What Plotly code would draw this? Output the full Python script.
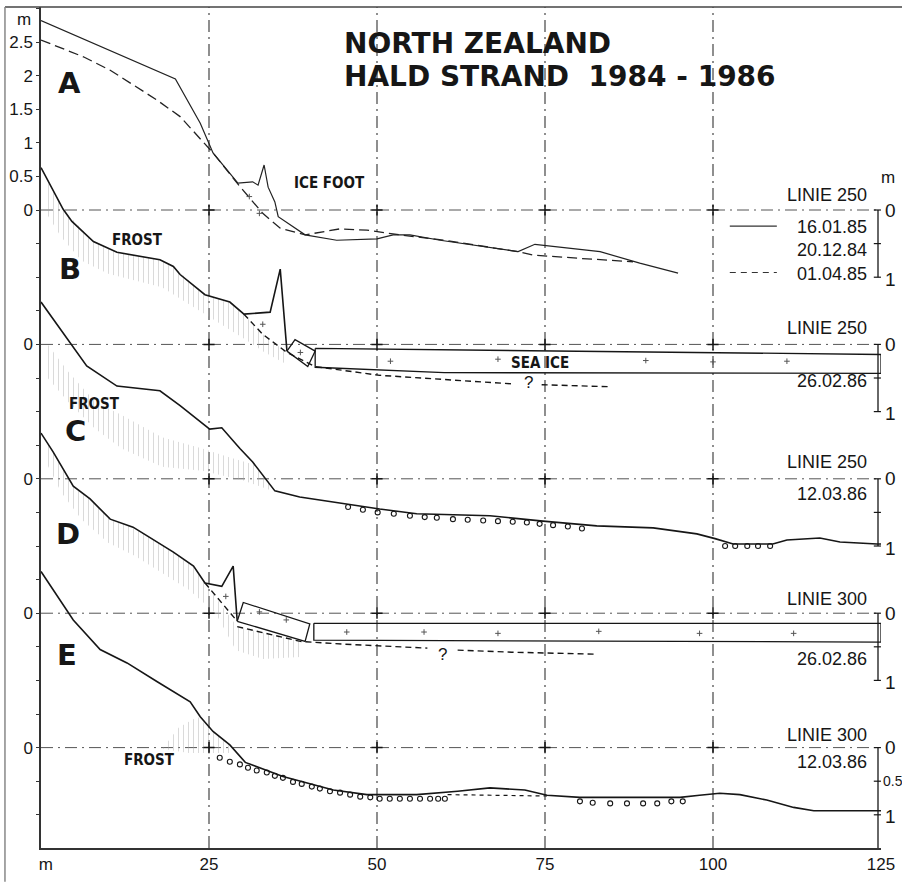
import plotly.graph_objects as go

# ---------------- data (metres; each profile relative to its own zero) -------------
x_tick_vals = [0, 25, 50, 75, 100, 125]
x_tick_text = ["\u00a0\u00a0m", "25", "50", "75", "100", "125"]

profile_names = ["A", "B", "C", "D", "E"]
profile_offsets = [0, -2, -4, -6, -8]          # vertical stacking of the five profiles
profile_lines = ["LINIE 250", "LINIE 250", "LINIE 250", "LINIE 300", "LINIE 300"]
profile_dates = ["", "26.02.86", "12.03.86", "26.02.86", "12.03.86"]

y_label_vals = [2.5, 2.0, 1.5, 1.0, 0.5, 0.0, -2.0, -4.0, -6.0, -8.0]
y_label_text = ["2.5", "2", "1.5", "1", "0.5", "0", "0", "0", "0", "0"]

legend_dates = ["16.01.85", "20.12.84", "01.04.85"]

# Profile A : 16.01.85 (solid) and 01.04.85 (dashed)
a_x = [0, 20.0, 23.7, 25.6, 29.3, 31.5, 32.3, 33.2, 33.8, 34.8, 35.3, 39.3, 44.0, 50.0, 52.4, 54.9, 59.4, 71.0, 73.5, 83.2, 89.1, 94.8]
a_y = [2.82, 1.95, 1.29, 0.85, 0.40, 0.42, 0.37, 0.67, 0.34, 0.12, -0.10, -0.37, -0.45, -0.43, -0.37, -0.37, -0.45, -0.62, -0.51, -0.62, -0.79, -0.94]
a2_x = [0, 6.3, 10.3, 14.2, 17.2, 20.7, 25.6, 29.6, 33.0, 35.6, 39.3, 44.5, 48.5, 53.4, 60.0, 71.0, 73.2, 80.2, 88.1]
a2_y = [2.53, 2.28, 2.08, 1.83, 1.64, 1.39, 0.85, 0.35, -0.05, -0.27, -0.37, -0.28, -0.30, -0.37, -0.45, -0.62, -0.67, -0.72, -0.77]

# Profile B : 26.02.86 with ice foot, ice block and sea ice
b_x = [0, 3.3, 4.6, 7.8, 11.3, 14.7, 17.7, 19.7, 20.7, 24.4, 28.1, 30.2, 34.1, 35.6, 36.6]
b_y = [2.63, 2.01, 1.83, 1.53, 1.37, 1.31, 1.26, 1.16, 1.04, 0.74, 0.63, 0.45, 0.48, 1.12, -0.10]
b_bed_x = [30.2, 33.0, 36.6, 40.8, 50.4, 65.3, 70.5, None, 74.5, 84.7]
b_bed_y = [0.45, 0.15, -0.12, -0.33, -0.46, -0.55, -0.59, None, -0.60, -0.63]
b_block_x = [36.6, 37.8, 40.8, 39.7, 36.6]
b_block_y = [-0.10, 0.07, -0.10, -0.33, -0.10]
b_ice_x = [40.8, 125, 125, 60, 40.8, 40.8]
b_ice_y = [-0.06, -0.15, -0.43, -0.42, -0.34, -0.06]
b_frost_top_x = [0.5, 3.3, 7.8, 11.3, 14.7, 17.7, 19.7, 24.4, 28.1, 30.2, 33.0, 36.6]
b_frost_top_y = [2.50, 2.01, 1.53, 1.37, 1.31, 1.26, 1.16, 0.74, 0.63, 0.45, 0.15, -0.12]
b_frost_bot_x = [36.6, 33, 30, 26, 22, 18, 14, 10, 6, 3, 0.5]
b_frost_bot_y = [-0.30, -0.10, 0.10, 0.35, 0.60, 0.85, 0.95, 1.05, 1.25, 1.60, 2.00]

# Profile C : 12.03.86
c_x = [0, 3.9, 6.8, 11.3, 17.7, 20.7, 25.1, 26.9, 29.6, 31.5, 34.8, 38.5, 50.4, 55.9, 66.8, 74.7, 82.7, 91.1, 97.6, 100.3, 103.0, 108.9, 111.0, 115.9, 118.9, 124.4, 125]
c_y = [2.63, 2.08, 1.68, 1.38, 1.31, 1.09, 0.74, 0.76, 0.45, 0.25, -0.18, -0.27, -0.45, -0.52, -0.55, -0.63, -0.70, -0.73, -0.82, -0.89, -0.97, -0.97, -0.91, -0.88, -0.94, -0.97, -0.97]
c_peb_x = [45.7, 47.9, 50.1, 52.5, 54.9, 57.1, 58.9, 61.3, 63.5, 65.8, 68.0, 70.2, 72.3, 74.2, 76.2, 78.4, 80.5, 101.8, 103.3, 105.1, 106.7, 108.5]
c_peb_y = [-0.42, -0.46, -0.50, -0.52, -0.55, -0.57, -0.58, -0.60, -0.61, -0.62, -0.63, -0.64, -0.65, -0.67, -0.69, -0.71, -0.74, -1.00, -1.00, -1.00, -1.00, -1.00]
c_frost_top_x = [1, 4, 8, 12, 18, 24, 28, 32, 34.5]
c_frost_top_y = [2.00, 1.60, 1.15, 0.95, 0.62, 0.45, 0.32, 0.20, -0.12]
c_frost_bot_x = [34.5, 30, 24, 18, 12, 8, 4, 1]
c_frost_bot_y = [-0.18, -0.02, 0.12, 0.18, 0.45, 0.75, 1.15, 1.50]

# Profile D : 26.02.86 with ice foot, tilted block and sea ice
d_x = [0, 1.8, 4.8, 7.3, 10.3, 13.7, 15.8, 19.7, 22.7, 24.4, 26.9, 28.6, 29.2]
d_y = [2.68, 2.40, 1.89, 1.70, 1.40, 1.28, 1.15, 0.91, 0.70, 0.45, 0.40, 0.70, -0.12]
d_bed_x = [24.4, 29.2, None, 29.2, 38.6, 45.0, 50.4, 57.5, None, 62.0, 70.0, 82.7]
d_bed_y = [0.45, -0.12, None, -0.20, -0.42, -0.46, -0.49, -0.52, None, -0.55, -0.58, -0.61]
d_block_x = [29.2, 30.1, 40.0, 39.3, 29.2]
d_block_y = [-0.12, 0.16, -0.16, -0.42, -0.12]
d_ice_x = [40.6, 125, 125, 40.6, 40.6]
d_ice_y = [-0.15, -0.15, -0.43, -0.40, -0.15]
d_frost_top_x = [0.5, 1.8, 4.8, 7.3, 10.3, 13.7, 15.8, 19.7, 22.7, 24.4, 29.2, 38.6]
d_frost_top_y = [2.60, 2.40, 1.89, 1.70, 1.40, 1.28, 1.15, 0.91, 0.70, 0.45, -0.20, -0.42]
d_frost_bot_x = [38.6, 33, 29, 26, 22, 18, 14, 10, 6, 3, 0.5]
d_frost_bot_y = [-0.65, -0.68, -0.55, 0.00, 0.35, 0.60, 0.85, 1.05, 1.40, 1.80, 2.30]

# Profile E : 12.03.86
e_x = [0, 4.8, 8.8, 12.8, 17.3, 22.2, 23.7, 25.6, 28.1, 30.4, 36.0, 43.5, 48.5, 55.9, 62.0, 66.8, 72.0, 75.3, 80.2, 95.1, 98.0, 101.0, 104.0, 108.0, 112.0, 115.0, 119.0, 125.0]
e_y = [2.62, 1.90, 1.46, 1.26, 0.98, 0.68, 0.46, 0.24, 0.04, -0.22, -0.43, -0.63, -0.70, -0.70, -0.65, -0.60, -0.63, -0.71, -0.74, -0.74, -0.71, -0.68, -0.70, -0.78, -0.89, -0.94, -0.94, -0.94]
e_peb_x = [26.6, 28.1, 29.6, 30.8, 32.1, 33.6, 34.8, 36.0, 37.5, 38.8, 40.3, 41.5, 43.0, 44.5, 46.0, 47.5, 49.0, 50.4, 51.9, 53.4, 54.9, 56.4, 57.9, 59.1, 60.1,
           80.2, 82.1, 84.7, 87.2, 89.6, 91.7, 93.8, 95.5]
e_peb_y = [-0.15, -0.21, -0.25, -0.30, -0.34, -0.37, -0.42, -0.45, -0.51, -0.54, -0.58, -0.61, -0.65, -0.67, -0.70, -0.73, -0.74, -0.76, -0.76, -0.76, -0.76, -0.76, -0.76, -0.76, -0.76,
           -0.80, -0.82, -0.83, -0.83, -0.83, -0.83, -0.80, -0.80]
e_dot_x = [60.5, 75.3]
e_dot_y = [-0.70, -0.72]
e_frost_x = [18.2, 20.5, 23.3, 25.6, 28.1, 28.1, 22.0, 18.2]
e_frost_y = [0.00, 0.30, 0.46, 0.24, 0.04, -0.08, -0.08, -0.02]

# small ice-crystal marks inside the ice
b_mark_x = [33.0, 38.6, 52.0, 68.0, 90.0, 100.0, 111.0]
b_mark_y = [0.30, -0.12, -0.25, -0.22, -0.24, -0.26, -0.25]
d_mark_x = [27.5, 32.5, 36.5, 45.5, 57.0, 68.0, 83.0, 98.0, 112.0]
d_mark_y = [0.25, 0.02, -0.10, -0.28, -0.28, -0.30, -0.27, -0.30, -0.30]
a_mark_x = [31.0, 32.5]
a_mark_y = [0.20, -0.05]

# ---------------- layout constants -------------
Y_MIN, Y_MAX = -9.494, 3.021
INK = "#161616"
FONT = "Liberation Sans, Arial, Helvetica, sans-serif"
TITLE_FONT = "DejaVu Sans, Liberation Sans, Arial, sans-serif"
NARROW = "DejaVu Sans Condensed, Liberation Sans Narrow, Arial Narrow, sans-serif"
DASH = "10px,5px"


def sh(vals, off):
    return [None if v is None else v + off for v in vals]


fig = go.Figure()


def line(x, y, off, width=1.6, dash="solid", color=INK, mode="lines", **kw):
    fig.add_trace(go.Scatter(x=x, y=sh(y, off), mode=mode, line=dict(color=color, width=width, dash=dash),
                             hoverinfo="skip", connectgaps=False, **kw))


def frost(x, y, off):
    fig.add_trace(go.Scatter(x=x, y=sh(y, off), mode="lines", fill="toself", line=dict(width=0, color="rgba(0,0,0,0)"),
                             fillcolor="rgba(0,0,0,0)",
                             fillpattern=dict(shape="|", size=5, solidity=0.16, fgcolor="#a3a3a3", bgcolor="rgba(0,0,0,0)"),
                             hoverinfo="skip"))


# frost hatching
frost(b_frost_top_x + b_frost_bot_x, b_frost_top_y + b_frost_bot_y, profile_offsets[1])
frost(c_frost_top_x + c_frost_bot_x, c_frost_top_y + c_frost_bot_y, profile_offsets[2])
frost(d_frost_top_x + d_frost_bot_x, d_frost_top_y + d_frost_bot_y, profile_offsets[3])
frost(e_frost_x, e_frost_y, profile_offsets[4])

# profile A
line(a_x, a_y, 0, width=1.2, color="#222")
line(a2_x, a2_y, 0, width=1.3, dash=DASH, color="#222")
# profile B
line(b_x, b_y, -2)
line(b_bed_x, b_bed_y, -2, width=1.4, dash="6px,4px")
line(b_block_x, b_block_y, -2, width=1.3)
line(b_ice_x, b_ice_y, -2, width=1.3)
# profile C
line(c_x, c_y, -4)
# profile D
line(d_x, d_y, -6)
line(d_bed_x, d_bed_y, -6, width=1.4, dash="6px,4px")
line(d_block_x, d_block_y, -6, width=1.3)
line(d_ice_x, d_ice_y, -6, width=1.3)
# profile E
line(e_x, e_y, -8)
line(e_dot_x, e_dot_y, -8, width=1.2, dash="4px,4px")

# pebbles
for px_, py_, off in [(c_peb_x, c_peb_y, -4), (e_peb_x, e_peb_y, -8)]:
    fig.add_trace(go.Scatter(x=px_, y=sh(py_, off), mode="markers", hoverinfo="skip",
                             marker=dict(symbol="circle-open", size=5, color=INK, line=dict(width=1.1, color=INK))))

# ice crystal marks
for mx, my, off in [(b_mark_x, b_mark_y, -2), (d_mark_x, d_mark_y, -6), (a_mark_x, a_mark_y, 0)]:
    fig.add_trace(go.Scatter(x=mx, y=sh(my, off), mode="markers", hoverinfo="skip",
                             marker=dict(symbol="cross-thin", size=4, line=dict(width=1, color="#555"))))

# grid crosses at the intersections
cx, cy = [], []
for gx in x_tick_vals[1:-1]:
    for off in profile_offsets:
        cx.append(gx)
        cy.append(off)
fig.add_trace(go.Scatter(x=cx, y=cy, mode="markers", hoverinfo="skip",
                         marker=dict(symbol="cross-thin", size=8, line=dict(width=1.5, color=INK))))

shapes = []
# vertical dash-dot grid
for gx in x_tick_vals[1:-1]:
    shapes.append(dict(type="line", xref="x", yref="paper", x0=gx, x1=gx, y0=0, y1=1,
                       line=dict(color="#333", width=1.1, dash="12px,5px,2px,5px"), layer="below"))
# horizontal dash-dot zero lines
for off in profile_offsets:
    shapes.append(dict(type="line", xref="x", yref="y", x0=0, x1=125, y0=off, y1=off,
                       line=dict(color="#555", width=1.0, dash="12px,5px,2px,5px"), layer="below"))
# right-hand depth scales
BR = (878 - 41) / 840
for i, off in enumerate(profile_offsets):
    bottom = Y_MIN if i == 4 else off - 1
    shapes.append(dict(type="line", xref="paper", yref="y", x0=BR, x1=BR, y0=off, y1=bottom,
                       line=dict(color=INK, width=1.3)))
    for t in [0, -0.5, -1]:
        shapes.append(dict(type="line", xref="paper", yref="y", x0=BR - 0.005, x1=BR + 0.0035,
                           y0=off + t, y1=off + t, line=dict(color=INK, width=1.2)))
# frame edges (scan border)
shapes.append(dict(type="line", xref="paper", yref="paper", x0=-0.0429, x1=1.025, y0=1.0, y1=1.0,
                   line=dict(color="#444", width=1.5)))
shapes.append(dict(type="line", xref="paper", yref="paper", x0=-0.0429, x1=-0.0429, y0=-0.04, y1=1.0,
                   line=dict(color="#888", width=1.5)))
# legend samples in A
shapes.append(dict(type="line", xref="x", yref="y", x0=102.5, x1=109.5, y0=-0.24, y1=-0.24,
                   line=dict(color="#333", width=1.1)))
shapes.append(dict(type="line", xref="x", yref="y", x0=102.5, x1=109.5, y0=-0.93, y1=-0.93,
                   line=dict(color="#333", width=1.1, dash="6px,5px")))

ann = []


def text(t, x, y, size=17, bold=False, family=FONT, xanchor="center", yanchor="middle", xref="x", bg=None):
    d = dict(text=("<b>%s</b>" % t) if bold else t, x=x, y=y, xref=xref, yref="y", showarrow=False,
             xanchor=xanchor, yanchor=yanchor, font=dict(size=size, family=family, color=INK))
    if bg:
        d["bgcolor"] = bg
    ann.append(d)


# title
text("NORTH ZEALAND", (342 - 41) / 840, 2.485, size=28, bold=True, family=TITLE_FONT, xanchor="left", xref="paper")
text("HALD STRAND\u00a0\u00a01984\u00a0-\u00a01986", (342 - 41) / 840, 1.98, size=28, bold=True, family=TITLE_FONT,
     xanchor="left", xref="paper")

# profile letters
letter_pos = [(4.3, 1.89), (4.3, 1.12), (5.2, 0.71), (4.0, 1.18), (3.9, 1.38)]
for name, (lx, ly), off in zip(profile_names, letter_pos, profile_offsets):
    text(name, lx, ly + off, size=29, bold=True, family=TITLE_FONT)

# LINIE / dates
linie_y = [0.22, 0.25, 0.25, 0.21, 0.19]
date_y = [None, -0.54, -0.22, -0.68, -0.21]
for i, off in enumerate(profile_offsets):
    text(profile_lines[i], 123.2, linie_y[i] + off, size=18, xanchor="right")
    if profile_dates[i]:
        text(profile_dates[i], 123.2, date_y[i] + off, size=18, xanchor="right")
for d, yy in zip(legend_dates, [-0.26, -0.60, -0.95]):
    text(d, 123.2, yy, size=18, xanchor="right")

# right scale labels
RL = (883 - 41) / 840
for i, off in enumerate(profile_offsets):
    text("0", RL, off, size=19, xanchor="left", xref="paper")
    if i == 4:
        text("0.5", (881 - 41) / 840, off - 0.5, size=14, xanchor="left", xref="paper")
    text("1", RL, off - 1.03, size=19, xanchor="left", xref="paper")
text("m", (888 - 41) / 840, 0.48, size=17, xanchor="center", xref="paper")
text("m", (24 - 41) / 840, 2.84, size=17, xanchor="center", xref="paper")

# feature labels
text("ICE FOOT", 43.0, 0.40, size=15, bold=True, family=NARROW)
text("FROST", 14.3, 1.56 - 2, size=15, bold=True, family=NARROW)
text("SEA ICE", 74.3, -0.27 - 2, size=15, bold=True, family=NARROW)
text("?", 72.5, -0.57 - 2, size=17)
text("FROST", 3.9, 1.12 - 4, size=15, bold=True, family=NARROW, xanchor="left")
text("?", 59.8, -0.62 - 6, size=17)
text("FROST", 16.2, -0.18 - 8, size=15, bold=True, family=NARROW)

y_tick_vals = [k * 0.5 for k in range(-19, 7)]
y_tick_text = []
for v in y_tick_vals:
    lab = ""
    for lv, lt in zip(y_label_vals, y_label_text):
        if abs(lv - v) < 1e-9:
            lab = lt
    y_tick_text.append(lab)

fig.update_layout(
    width=902, height=882, autosize=False,
    margin=dict(l=41, r=21, t=7, b=34, pad=0),
    paper_bgcolor="white", plot_bgcolor="white",
    showlegend=False,
    shapes=shapes, annotations=ann,
    font=dict(family=FONT, color=INK),
    xaxis=dict(range=[0, 125], showgrid=False, zeroline=False, showline=True, linecolor="#333", linewidth=1.5,
               tickvals=x_tick_vals, ticktext=x_tick_text, ticks="", tickfont=dict(size=17, family=FONT, color=INK),
               fixedrange=True),
    yaxis=dict(range=[Y_MIN, Y_MAX], showgrid=False, zeroline=False, showline=True, linecolor="#333", linewidth=1.5,
               tickvals=y_tick_vals, ticktext=y_tick_text, ticks="outside", ticklen=3, tickcolor="#333",
               tickfont=dict(size=17, family=FONT, color=INK), fixedrange=True),
)

fig.write_html("out.html", config={"displayModeBar": False},
               post_script="document.body.style.margin='0';document.body.style.padding='0';")
